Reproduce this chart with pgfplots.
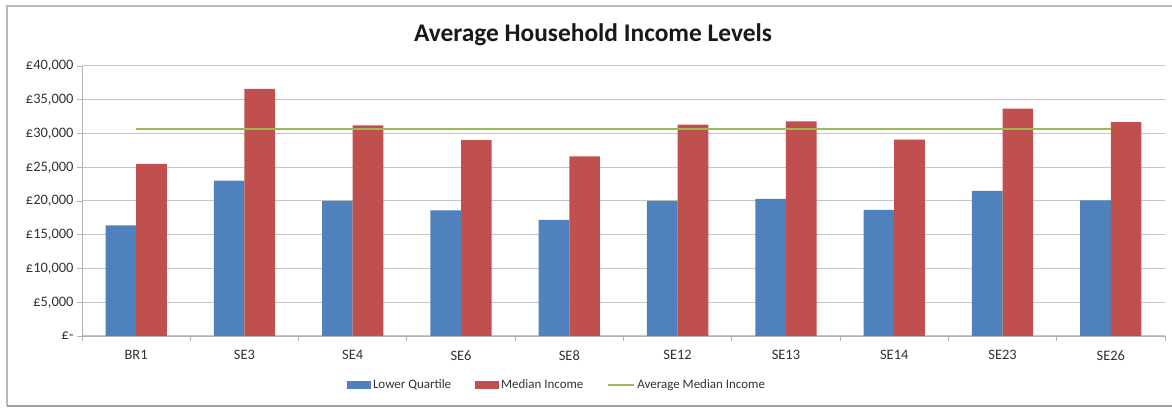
\documentclass[border=0pt]{standalone}
\usepackage{fontspec}
\setmainfont{Carlito}
\usepackage{pgfplots}
\pgfplotsset{compat=1.18}
\definecolor{qblue}{HTML}{4F81BD}
\definecolor{mred}{HTML}{C0504D}
\definecolor{agreen}{HTML}{9BBB59}
\begin{document}
\begin{tikzpicture}
\useasboundingbox (0bp,0bp) rectangle (1172bp,409bp);
\fill[white] (0bp,0bp) rectangle (1172bp,409bp);
\draw[gray!55, line width=1.2bp] (7bp,3bp) -- (7bp,403bp) -- (1172bp,403bp);
\draw[gray!75, line width=2.5bp] (7bp,3bp) -- (1172bp,3bp);
\node[font=\fontsize{25.5}{30}\selectfont\bfseries, text=black!90] at (593bp,374bp) {Average Household Income Levels};
\begin{axis}[
  at={(82bp,73bp)}, anchor=south west, scale only axis,
  width=1083bp, height=270bp,
  xmin=-0.5, xmax=9.5, ymin=0, ymax=40000,
  scaled y ticks=false,
  axis x line*=bottom, axis y line*=left,
  axis line style={-, draw=gray!60, line width=0.8bp},
  xtick={0,...,9},
  xticklabels={BR1,SE3,SE4,SE6,SE8,SE12,SE13,SE14,SE23,SE26},
  major x tick style={draw=none},
  minor xtick={-0.5,0.5,...,9.5},
  minor x tick style={draw=gray!60, line width=0.8bp},
  minor tick length=5bp,
  ytick={0,5000,...,40000},
  yticklabels={{£-},{£5,000},{£10,000},{£15,000},{£20,000},{£25,000},{£30,000},{£35,000},{£40,000}},
  major y tick style={draw=gray!60, line width=0.8bp},
  major tick length=5bp,
  tick align=outside,
  ymajorgrids, grid style={draw=gray!45, line width=1bp},
  tick label style={font=\fontsize{14.5}{17}\selectfont, text=black!80},
  xticklabel style={yshift=-6bp},
  legend columns=3,
  legend style={draw=none, fill=none, at={(0.4386,-0.1815)}, anchor=center,
    font=\fontsize{13}{15}\selectfont, text=black!80,
    /tikz/every even column/.append style={column sep=22bp}},
  legend cell align=left,
]
\addplot[ybar, bar width=0.283, bar shift=-0.1415, fill=qblue, draw=none,
  legend image code/.code={\fill[qblue] (0bp,-4bp) rectangle (24bp,4bp);}]
  coordinates {(0,16400) (1,23000) (2,20000) (3,18600) (4,17200) (5,20000) (6,20300) (7,18700) (8,21500) (9,20100)};
\addlegendentry{Lower Quartile}
\addplot[ybar, bar width=0.283, bar shift=0.1415, fill=mred, draw=none,
  legend image code/.code={\fill[mred] (0bp,-4bp) rectangle (24bp,4bp);}]
  coordinates {(0,25500) (1,36600) (2,31200) (3,29000) (4,26600) (5,31300) (6,31800) (7,29100) (8,33700) (9,31700)};
\addlegendentry{Median Income}
\addplot[agreen, line width=2.5bp, mark=none,
  legend image code/.code={\draw[agreen, line width=2bp] (0bp,0bp) -- (26bp,0bp);}]
  coordinates {(0,30700) (9,30700)};
\addlegendentry{Average Median Income}
\end{axis}
\end{tikzpicture}
\end{document}
